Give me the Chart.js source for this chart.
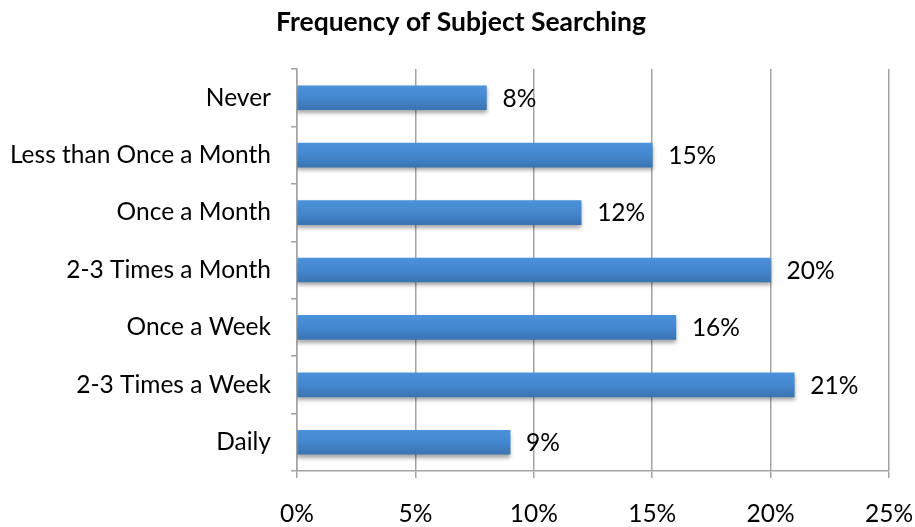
<!DOCTYPE html>
<html lang="en">
<head>
    <meta charset="UTF-8">
    <title>Frequency of Subject Searching</title>
    <style>
        body { margin: 0; background: #fff; }
        #wrap { width: 915px; height: 527px; position: relative; }
    </style>
</head>
<body>
    <div id="wrap"><canvas id="chart"></canvas></div>

    <script src="https://cdn.jsdelivr.net/npm/chart.js"></script>
    <script>
        const categories = ['Never', 'Less than Once a Month', 'Once a Month', '2-3 Times a Month', 'Once a Week', '2-3 Times a Week', 'Daily'];
        const percents = [8, 15, 12, 20, 16, 21, 9];
        const xTicks = [0, 5, 10, 15, 20, 25];

        const FONT = 'Lato, "Open Sans", sans-serif';
        const FS = 24.5;
        const GRID = '#a3a3a3';
        const BAR_H = 24;

        // gradient per bar, light on top, darker underneath
        function barFill(c) {
            const chart = c.chart;
            const y = chart.scales && chart.scales.y;
            if (!y || c.dataIndex === undefined) return '#4384cc';
            const cy = y.getPixelForValue(c.dataIndex);
            if (!isFinite(cy)) return '#4384cc';
            const g = chart.ctx.createLinearGradient(0, cy - BAR_H / 2, 0, cy + BAR_H / 2);
            g.addColorStop(0, '#4b92da');
            g.addColorStop(0.5, '#4487cf');
            g.addColorStop(1, '#3a74b2');
            return g;
        }

        const shadowAndLabels = {
            id: 'shadowAndLabels',
            beforeDatasetDraw(chart) {
                const ctx = chart.ctx;
                ctx.save();
                ctx.shadowColor = 'rgba(0,0,0,0.35)';
                ctx.shadowBlur = 4;
                ctx.shadowOffsetY = 3;
            },
            afterDatasetDraw(chart) {
                chart.ctx.restore();
            },
            afterDatasetsDraw(chart) {
                const ctx = chart.ctx;
                ctx.save();
                ctx.font = FS + 'px ' + FONT;
                ctx.fillStyle = '#000';
                ctx.textAlign = 'left';
                ctx.textBaseline = 'middle';
                chart.getDatasetMeta(0).data.forEach((bar, i) => {
                    ctx.fillText(percents[i] + '%', bar.x + 16, bar.y + 1);
                });
                // title
                ctx.font = 'bold 26.5px ' + FONT;
                ctx.textAlign = 'center';
                ctx.textBaseline = 'alphabetic';
                ctx.fillText('Frequency of Subject Searching', 461, 31);
                ctx.restore();
            }
        };

        new Chart(document.getElementById('chart'), {
            type: 'bar',
            data: {
                labels: categories,
                datasets: [{
                    data: percents,
                    backgroundColor: barFill,
                    borderWidth: 0,
                    barThickness: BAR_H
                }]
            },
            options: {
                indexAxis: 'y',
                responsive: true,
                maintainAspectRatio: false,
                animation: false,
                layout: { padding: { top: 69, right: 26, left: 0, bottom: 0 } },
                plugins: {
                    legend: { display: false },
                    tooltip: { enabled: false }
                },
                scales: {
                    x: {
                        min: 0,
                        max: 25,
                        afterBuildTicks: s => { s.ticks = xTicks.map(v => ({ value: v })); },
                        afterFit: s => { s.height = 56; s.paddingLeft = 0; s.paddingRight = 0; },
                        ticks: {
                            callback: v => v + '%',
                            color: '#000',
                            font: { family: FONT, size: FS },
                            padding: 21,
                            maxRotation: 0
                        },
                        grid: { color: GRID, lineWidth: 1.5, tickLength: 7 },
                        border: { color: GRID, width: 1.5 }
                    },
                    y: {
                        afterFit: s => { s.width = 297; },
                        ticks: {
                            color: '#000',
                            font: { family: FONT, size: FS },
                            padding: 20
                        },
                        grid: { drawOnChartArea: false, color: GRID, lineWidth: 1.5, tickLength: 6, offset: true },
                        border: { color: GRID, width: 1.5 }
                    }
                }
            },
            plugins: [shadowAndLabels]
        });
    </script>
</body>
</html>
